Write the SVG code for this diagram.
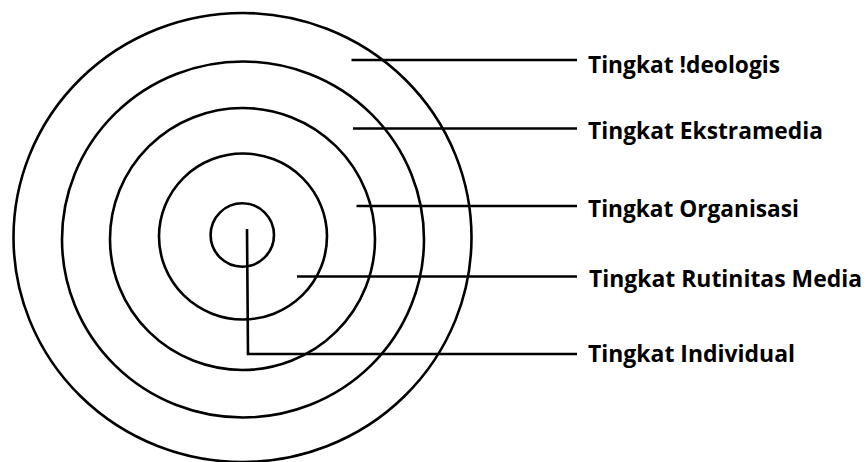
<svg xmlns="http://www.w3.org/2000/svg" width="868" height="462" viewBox="0 0 868 462">
<style>
.ring{fill:none;stroke:#000;stroke-width:2.6}
.con{fill:none;stroke:#000;stroke-width:2.6}
.lbl{font-family:"Open Sans","Noto Sans","Liberation Sans",sans-serif;font-weight:bold;font-size:23.5px;fill:#000}
</style>
<rect width="868" height="462" fill="#fff"/>
<g id="ring-ideologis"><ellipse class="ring" cx="242.5" cy="237.5" rx="229" ry="224.5"/></g>
<g id="ring-ekstramedia"><ellipse class="ring" cx="243" cy="239.5" rx="181" ry="178"/></g>
<g id="ring-organisasi"><ellipse class="ring" cx="242.5" cy="239" rx="132.5" ry="131"/></g>
<g id="ring-rutinitas"><ellipse class="ring" cx="243" cy="236.5" rx="84" ry="83"/></g>
<g id="ring-individual"><ellipse class="ring" cx="242.3" cy="235" rx="31.7" ry="31.7"/></g>
<g id="connectors">
<line class="con" x1="351.5" y1="60" x2="577" y2="60"/>
<line class="con" x1="353" y1="128.5" x2="577" y2="128.5"/>
<line class="con" x1="356.5" y1="206" x2="577" y2="206"/>
<line class="con" x1="297" y1="276.5" x2="577" y2="276.5"/>
<polyline class="con" points="247,229 248,354 577,354"/>
</g>
<g id="label-ideologis"><text class="lbl" x="588" y="72.5" textLength="192" lengthAdjust="spacingAndGlyphs">Tingkat !deologis</text></g>
<g id="label-ekstramedia"><text class="lbl" x="588" y="139" textLength="235" lengthAdjust="spacingAndGlyphs">Tingkat Ekstramedia</text></g>
<g id="label-organisasi"><text class="lbl" x="588" y="217" textLength="211" lengthAdjust="spacingAndGlyphs">Tingkat Organisasi</text></g>
<g id="label-rutinitas"><text class="lbl" x="589" y="287" textLength="273" lengthAdjust="spacingAndGlyphs">Tingkat Rutinitas Media</text></g>
<g id="label-individual"><text class="lbl" x="588" y="362" textLength="207" lengthAdjust="spacingAndGlyphs">Tingkat Individual</text></g>
</svg>
